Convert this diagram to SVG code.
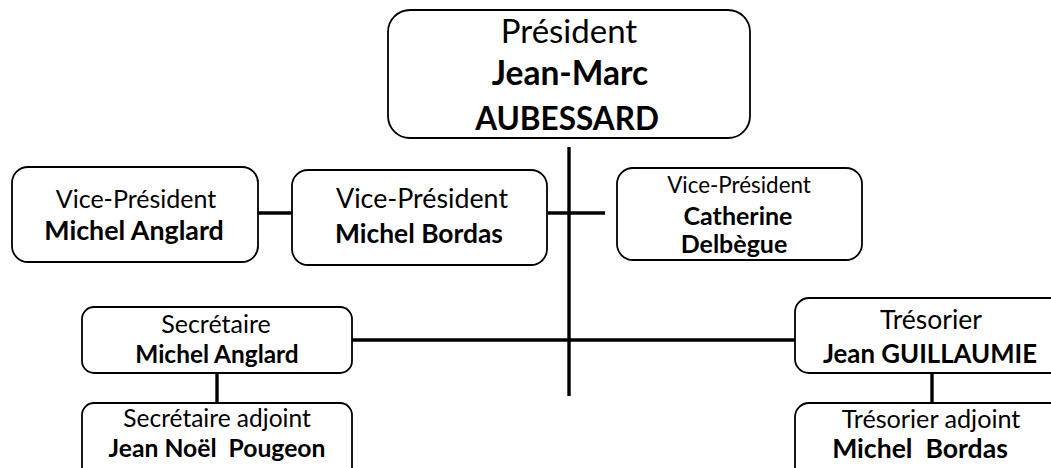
<svg xmlns="http://www.w3.org/2000/svg" width="1051" height="468" viewBox="0 0 1051 468">
<style>
.box{fill:#fff;stroke:#000;stroke-width:1.8}
.ln{stroke:#000;stroke-width:3.4;fill:none}
text{font-family:Lato,"Open Sans","Liberation Sans",sans-serif;text-anchor:middle;fill:#000;white-space:pre}
.b{font-weight:bold}
</style>
<rect width="1051" height="468" fill="#fff"/>
<g id="connectors">
<line class="ln" x1="569" y1="147" x2="569" y2="396"/>
<line class="ln" x1="548" y1="213" x2="605" y2="213"/>
<line class="ln" x1="258" y1="213" x2="292" y2="213"/>
<line class="ln" x1="352" y1="340" x2="795" y2="340"/>
<line class="ln" x1="217" y1="373" x2="217" y2="403"/>
<line class="ln" x1="932" y1="373" x2="932" y2="403"/>
</g>
<g id="president">
<rect class="box" x="388" y="10" width="362" height="128" rx="22"/>
<text x="569" y="43" font-size="33">Président</text>
<text x="570" y="85" font-size="33.5" class="b">Jean-Marc</text>
<text x="567" y="130" font-size="31.5" class="b">AUBESSARD</text>
</g>
<g id="vp1">
<rect class="box" x="12" y="167" width="246" height="95" rx="16"/>
<text x="136" y="208" font-size="25">Vice-Président</text>
<text x="134" y="240" font-size="26.8" class="b">Michel Anglard</text>
</g>
<g id="vp2">
<rect class="box" x="292" y="170" width="255" height="95" rx="16"/>
<text x="422" y="208" font-size="26.8">Vice-Président</text>
<text x="419" y="243" font-size="26.4" class="b">Michel Bordas</text>
</g>
<g id="vp3">
<rect class="box" x="617" y="168" width="245" height="92" rx="16"/>
<text x="739" y="193" font-size="22.4">Vice-Président</text>
<text x="738" y="225" font-size="25" class="b">Catherine</text>
<text x="734" y="253" font-size="25" class="b">Delbègue</text>
</g>
<g id="secretaire">
<rect class="box" x="82" y="307" width="270" height="66" rx="12"/>
<text x="216" y="333" font-size="25">Secrétaire</text>
<text x="217" y="363" font-size="24.4" class="b">Michel Anglard</text>
</g>
<g id="tresorier">
<rect class="box" x="795" y="298" width="272" height="75" rx="14"/>
<text x="931" y="329" font-size="26.5">Trésorier</text>
<text x="930" y="363" font-size="25.8" class="b">Jean GUILLAUMIE</text>
</g>
<g id="secretaire-adjoint">
<rect class="box" x="82" y="403" width="270" height="80" rx="12"/>
<text x="217" y="427" font-size="24.5">Secrétaire adjoint</text>
<text x="217" y="457" font-size="24.7" class="b">Jean Noël  Pougeon</text>
</g>
<g id="tresorier-adjoint">
<rect class="box" x="795" y="403" width="272" height="80" rx="14"/>
<text x="931" y="428" font-size="25.2">Trésorier adjoint</text>
<text x="920" y="458" font-size="26.6" class="b">Michel  Bordas</text>
</g>
</svg>
